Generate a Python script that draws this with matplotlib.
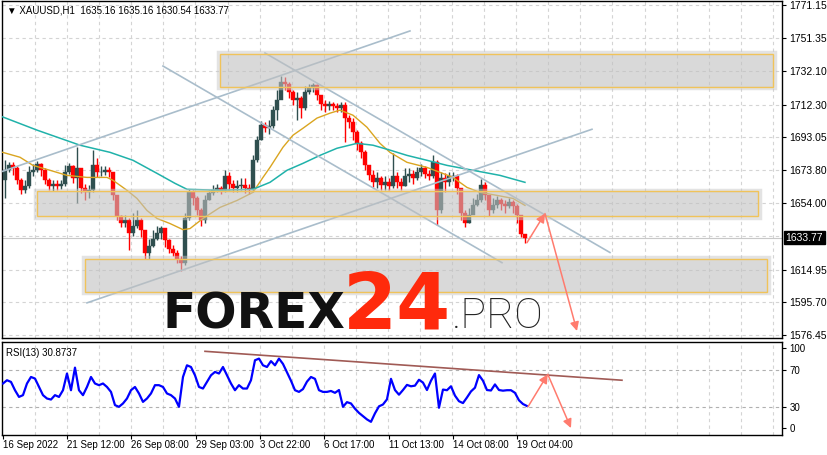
import numpy as np
import matplotlib.pyplot as plt
from matplotlib.patches import Rectangle, FancyArrowPatch
import matplotlib.transforms as mtransforms

# XAUUSD H1 candles (one entry per sampled bar)
closes = [1673.5, 1676.4, 1674.7, 1667.6, 1661.7, 1664.0, 1672.3, 1673.5, 1677.0, 1673.5,
          1667.6, 1664.0, 1665.2, 1664.0, 1665.2, 1672.3, 1675.8, 1668.8, 1674.7, 1662.8,
          1660.5, 1661.7, 1676.4, 1672.3, 1672.3, 1673.5, 1672.3, 1658.7, 1646.3, 1642.7,
          1643.9, 1636.8, 1640.9, 1643.9, 1638.0, 1625.0, 1629.1, 1633.2, 1636.8, 1639.2,
          1632.1, 1627.3, 1625.0, 1621.4, 1619.0, 1645.1, 1660.5, 1656.9, 1649.8, 1643.9,
          1655.7, 1659.9, 1661.7, 1662.8, 1661.7, 1669.9, 1665.2, 1662.8, 1664.0, 1664.6,
          1662.8, 1661.7, 1679.4, 1691.3, 1700.1, 1698.3, 1699.5, 1709.0, 1714.9, 1725.6,
          1724.4, 1719.6, 1714.9, 1716.1, 1710.2, 1719.6, 1722.0, 1723.8, 1717.9, 1712.5,
          1711.4, 1712.5, 1711.4, 1710.2, 1711.9, 1704.3, 1701.9, 1696.0, 1689.4, 1684.1,
          1676.4, 1670.5, 1666.4, 1668.8, 1664.6, 1666.4, 1664.0, 1669.9, 1666.4, 1664.0,
          1669.9, 1671.1, 1668.8, 1672.3, 1674.7, 1671.1, 1669.9, 1678.2, 1649.8, 1668.8,
          1666.4, 1669.9, 1669.9, 1662.8, 1648.6, 1642.7, 1646.9, 1652.8, 1655.7, 1664.6,
          1658.7, 1649.8, 1652.8, 1655.7, 1653.4, 1652.2, 1654.6, 1652.2, 1646.9, 1636.0,
          1633.77]
highs = [1679.4, 1678.2, 1678.2, 1675.8, 1668.8, 1667.6, 1675.8, 1677.0, 1678.8, 1677.6,
         1674.7, 1668.8, 1667.6, 1667.6, 1667.6, 1676.4, 1677.6, 1676.4, 1687.1, 1673.5,
         1665.2, 1664.6, 1685.4, 1680.6, 1675.8, 1675.8, 1675.2, 1672.3, 1658.7, 1647.4,
         1646.9, 1645.1, 1648.6, 1649.8, 1645.1, 1638.0, 1633.2, 1638.0, 1640.9, 1640.9,
         1639.2, 1633.2, 1629.7, 1626.2, 1623.2, 1648.6, 1662.3, 1661.7, 1658.1, 1651.0,
         1658.7, 1661.7, 1664.6, 1665.2, 1664.0, 1673.5, 1672.3, 1667.6, 1667.6, 1668.8,
         1668.8, 1665.2, 1682.3, 1693.6, 1702.5, 1701.9, 1703.1, 1711.4, 1720.8, 1729.1,
         1728.5, 1725.6, 1720.8, 1719.6, 1717.3, 1723.2, 1724.4, 1725.0, 1724.4, 1717.9,
         1714.9, 1714.3, 1713.7, 1713.1, 1713.7, 1713.7, 1706.0, 1704.3, 1697.2, 1690.6,
         1685.4, 1676.4, 1673.5, 1672.3, 1669.9, 1669.9, 1668.8, 1683.5, 1672.3, 1668.8,
         1674.7, 1674.7, 1673.5, 1675.2, 1677.0, 1675.8, 1673.5, 1682.3, 1679.4, 1672.3,
         1671.7, 1672.3, 1672.3, 1671.1, 1662.8, 1649.8, 1651.0, 1656.9, 1659.3, 1668.2,
         1666.4, 1658.7, 1656.9, 1658.1, 1656.9, 1655.7, 1656.9, 1655.7, 1653.4, 1647.4,
         1635.16]
lows = [1656.9, 1672.3, 1670.5, 1665.2, 1659.3, 1659.9, 1662.8, 1669.9, 1672.3, 1669.9,
        1665.2, 1661.7, 1661.1, 1661.7, 1662.3, 1664.0, 1671.1, 1665.8, 1654.0, 1659.9,
        1655.7, 1656.9, 1660.5, 1669.3, 1669.9, 1670.5, 1669.3, 1655.7, 1643.9, 1640.3,
        1640.3, 1626.2, 1635.0, 1639.2, 1634.4, 1621.4, 1621.4, 1628.5, 1632.1, 1633.2,
        1628.5, 1625.0, 1623.2, 1619.0, 1614.3, 1617.8, 1643.9, 1652.8, 1646.9, 1640.9,
        1642.7, 1655.7, 1658.7, 1660.5, 1659.3, 1660.5, 1661.7, 1660.5, 1660.5, 1661.7,
        1659.9, 1659.3, 1660.5, 1678.2, 1691.3, 1696.0, 1694.8, 1698.3, 1703.1, 1719.6,
        1720.8, 1716.1, 1711.9, 1703.1, 1704.3, 1709.0, 1718.5, 1719.6, 1714.9, 1709.0,
        1707.8, 1709.0, 1709.0, 1707.8, 1707.8, 1690.0, 1698.3, 1691.3, 1685.4, 1680.6,
        1673.5, 1667.6, 1663.4, 1662.8, 1661.7, 1661.7, 1661.7, 1662.8, 1662.8, 1661.7,
        1664.0, 1666.4, 1665.2, 1667.6, 1669.9, 1668.8, 1667.6, 1668.8, 1641.5, 1648.6,
        1660.5, 1664.0, 1667.0, 1659.3, 1643.9, 1639.8, 1642.7, 1648.6, 1652.2, 1654.6,
        1655.7, 1646.3, 1648.6, 1651.0, 1649.8, 1648.6, 1651.0, 1648.6, 1642.7, 1634.0,
        1630.54]
first_open = 1668.0

# moving averages (bar position, price)
ma_fast_x = [-0.6, 3.75, 7, 11.25, 15.5, 20.5, 25.5, 27, 30.5, 33, 35.5, 38, 41.25, 44.5,
             46.25, 49.5, 53.75, 58, 62, 64.5, 66.25, 69.5, 72, 74.5, 78, 81.25, 83.75, 87,
             90.5, 93.75, 96.25, 100.5, 105.5, 108.75, 112, 115.5, 118.75, 123, 127, 130]
ma_fast = [1684.1, 1681.2, 1676.4, 1673.5, 1670.5, 1669.3, 1669.3, 1667.6, 1661.7, 1656.9,
           1649.8, 1645.1, 1642.1, 1638.5, 1639.1, 1645.1, 1651.6, 1655.7, 1660.5, 1669.3,
           1675.2, 1687.1, 1694.2, 1698.3, 1704.3, 1707.2, 1709.0, 1706.0, 1698.9, 1689.4,
           1684.1, 1678.2, 1675.2, 1672.3, 1669.3, 1663.4, 1660.5, 1658.7, 1656.9, 1652.8]
ma_slow_x = [-0.6, 8, 18.75, 26.25, 32, 38, 42.5, 45.5, 53.75, 62, 66.25, 70.5, 74.5, 78.75,
             83, 88, 92, 96.25, 100.5, 105.5, 110.5, 117, 123.75, 130]
ma_slow = [1705.0, 1697.2, 1688.3, 1684.1, 1679.4, 1671.7, 1665.8, 1662.3, 1661.7, 1662.3,
           1666.4, 1673.5, 1677.6, 1682.3, 1686.5, 1689.4, 1688.3, 1685.4, 1682.3, 1679.4,
           1676.4, 1673.5, 1670.5, 1666.4]

# RSI(13)
rsi = [55, 58.5, 56.7, 47.8, 40.6, 42.5, 55, 62, 60.3, 51.3,
       42.5, 38.9, 37.8, 42.5, 40.6, 47.8, 65.7, 47.8, 72, 47.8,
       42.5, 51.3, 62, 55, 53.2, 55, 51.3, 46, 31.8, 30,
       33.6, 38.9, 47.8, 51.3, 44.3, 35.3, 38.9, 44.3, 53.2, 53.2,
       51.3, 44.3, 42.5, 38.9, 30, 62, 74.5, 72.7, 63.8, 51.3,
       49.6, 56.7, 63.8, 67.4, 65.7, 72.7, 63.8, 55, 47.8, 53.2,
       49.6, 49.6, 58.5, 79.9, 81.7, 74.5, 72.7, 79, 74.5, 81.7,
       76, 67, 58, 47.8, 46, 49, 57, 62, 60, 47.8,
       46, 46, 47, 45, 48, 30, 35, 33.6, 28, 23.5,
       20, 16.5, 13.9, 23, 30.5, 32.5, 38, 60, 48, 43,
       48, 53.5, 52, 52.7, 59, 56, 48, 58, 65.7, 29,
       48.5, 47.8, 52, 42, 36, 34, 40, 46.5, 50.5, 64,
       58, 48, 47.5, 54, 48, 47.3, 47.8, 47.8, 45, 37,
       33, 30.87]

# zones: (x0, x1, price_low, price_high)
zones = [(53.75, 192.0, 1722.6, 1742.2),
         (8.0, 188.25, 1646.3, 1661.1),
         (20.0, 190.5, 1601.9, 1621.4)]
# trend lines: ((x0, p0), (x1, p1))
trend_lines = [((-0.6, 1672.9), (101.25, 1755.7)),
               ((20.5, 1595.3), (146.75, 1697.7)),
               ((39.5, 1735.0), (124.25, 1619.0)),
               ((65.0, 1742.7), (151.25, 1625.0))]
price_arrows = [((130.5, 1630.8), (135.0, 1648.0)),
                ((135.0, 1648.0), (143.0, 1578.7))]
rsi_line = ((50.0, 89.5), (154.25, 58.5))
rsi_arrows = [((130.75, 30.0), (135.7, 64.9)),
              ((135.7, 64.9), (141.5, 7.2))]

price_levels = [1771.15, 1751.35, 1732.10, 1712.30, 1693.05, 1673.80, 1654.00,
                1614.95, 1595.70, 1576.45]
last_price = 1633.77
time_pos = [-0.5, 15.5, 31.6, 47.75, 63.75, 79.75, 96.0, 112.0, 128.0]
time_labels = ['16 Sep 2022', '21 Sep 12:00', '26 Sep 08:00', '29 Sep 03:00', '3 Oct 22:00',
               '6 Oct 17:00', '11 Oct 13:00', '14 Oct 08:00', '19 Oct 04:00']

plt.rcParams['font.family'] = ['Liberation Sans', 'DejaVu Sans']

fig = plt.figure(figsize=(8.28, 4.55), dpi=100)
ax = fig.add_axes([0.003, 0.2565, 0.942, 0.7418])
ax_rsi = fig.add_axes([0.003, 0.0444, 0.942, 0.205])

xlim = (-0.625, 194.375)
grid_x = np.arange(-0.5 + 8.02, 194, 8.02)
grid_kw = dict(color='#d4d4d4', lw=0.8, ls=(0, (3, 3)), zorder=0)

# ---- main chart
ax.set_xlim(*xlim)
ax.set_ylim(1574.4, 1773.5)
for gx in grid_x:
    ax.axvline(gx, **grid_kw)
for p in price_levels + [1634.75]:
    ax.axhline(p, **grid_kw)
ax.axhline(last_price, color='#c8c8c8', lw=0.8, zorder=1)

n = len(closes)
xs = np.arange(n)
opens = [first_open] + closes[:-1]
up = [c >= o for o, c in zip(opens, closes)]
cols = ['#2f4f4f' if u else '#ff0000' for u in up]
ax.vlines(xs, lows, highs, colors=cols, lw=1.0, zorder=3)
bottoms = [min(o, c) for o, c in zip(opens, closes)]
heights = [max(abs(c - o), 0.4) for o, c in zip(opens, closes)]
ax.bar(xs, heights, bottom=bottoms, width=0.8, color=cols, edgecolor=cols, lw=0.3, zorder=3)

ax.plot(ma_fast_x, ma_fast, color='#daa520', lw=1.0, zorder=4)
ax.plot(ma_slow_x, ma_slow, color='#20b2aa', lw=1.1, zorder=4)

for (x0, p0), (x1, p1) in trend_lines:
    ax.plot([x0, x1], [p0, p1], color='#a9bdcb', lw=1.2, zorder=5)

for x0, x1, lo, hi in zones:
    ax.add_patch(Rectangle((x0 - 0.4, lo - 0.8), x1 - x0 + 0.8, hi - lo + 1.6,
                           facecolor='none', edgecolor='#c8c8c8', lw=2.5, alpha=0.5, zorder=6))
    ax.add_patch(Rectangle((x0, lo), x1 - x0, hi - lo, facecolor='#c0c0c0',
                           alpha=0.6, edgecolor='none', zorder=6))
    ax.add_patch(Rectangle((x0, lo), x1 - x0, hi - lo, facecolor='none',
                           edgecolor='#f0c35a', lw=1.0, zorder=7))

for start, end in price_arrows:
    ax.add_patch(FancyArrowPatch(start, end, arrowstyle='-|>', mutation_scale=13,
                                 color='#ff7b6e', lw=1.1, shrinkA=0, shrinkB=0, zorder=8))

ax.yaxis.tick_right()
ax.set_yticks(price_levels)
ax.set_yticklabels([f'{p:.2f}' for p in price_levels])
ax.tick_params(axis='y', labelsize=7.5, length=3, width=0.8, pad=2, colors='black')
ax.set_xticks([])
for s in ax.spines.values():
    s.set_color('black')
    s.set_linewidth(1.0)

trans = mtransforms.blended_transform_factory(ax.transAxes, ax.transData)
ax.text(1.004, last_price, f'{last_price:.2f}', transform=trans, fontsize=7.5, color='white',
        va='center', ha='left',
        bbox=dict(boxstyle='square,pad=0.15', facecolor='black', edgecolor='black'),
        zorder=10, clip_on=False)

fig.text(0.008, 0.976, '\u25bc XAUUSD,H1  1635.16 1635.16 1630.54 1633.77', fontsize=7,
         va='center', ha='left', family=['Liberation Sans', 'DejaVu Sans'])

# watermark
fig.text(0.196, 0.279, 'FOREX', fontsize=35, fontweight='bold', family='DejaVu Sans',
         color='#111111', va='baseline', ha='left', zorder=20)
fig.text(0.414, 0.279, '24', fontsize=56, fontweight='bold', family='DejaVu Sans',
         color='#ff2a0c', va='baseline', ha='left', zorder=20)
fig.text(0.546, 0.279, '.PRO', fontsize=31, fontweight='light', family='Roboto',
         color='#222222', va='baseline', ha='left', zorder=20)

# ---- RSI panel
ax_rsi.set_xlim(*xlim)
ax_rsi.set_ylim(0, 100)
for gx in grid_x:
    ax_rsi.axvline(gx, **grid_kw)
for lvl in (70, 30):
    ax_rsi.axhline(lvl, color='#b0b0b0', lw=0.8, ls=(0, (3, 3)), zorder=1)
ax_rsi.plot(np.arange(len(rsi)) - 0.5, rsi, color='#0000ff', lw=1.6, zorder=3)
(rx0, rv0), (rx1, rv1) = rsi_line
ax_rsi.plot([rx0, rx1], [rv0, rv1], color='#a05a55', lw=1.2, zorder=4)
for start, end in rsi_arrows:
    ax_rsi.add_patch(FancyArrowPatch(start, end, arrowstyle='-|>', mutation_scale=13,
                                     color='#ff7b6e', lw=1.1, shrinkA=0, shrinkB=0, zorder=8))

ax_rsi.yaxis.tick_right()
ax_rsi.set_yticks([7, 30, 70, 93.5])
ax_rsi.set_yticklabels(['0', '30', '70', '100'])
ax_rsi.tick_params(axis='y', labelsize=7, length=3, width=0.8, pad=2)
ax_rsi.set_xticks(time_pos)
ax_rsi.set_xticklabels(time_labels)
ax_rsi.tick_params(axis='x', labelsize=7, length=3, width=0.8, pad=0.5)
for lab in ax_rsi.get_xticklabels():
    lab.set_ha('left')
for s in ax_rsi.spines.values():
    s.set_color('black')
    s.set_linewidth(1.0)
ax_rsi.text(0.005, 0.93, 'RSI(13) 30.8737', transform=ax_rsi.transAxes, fontsize=7,
            va='top', ha='left')

fig.savefig('out.png', dpi=100, facecolor='white')
